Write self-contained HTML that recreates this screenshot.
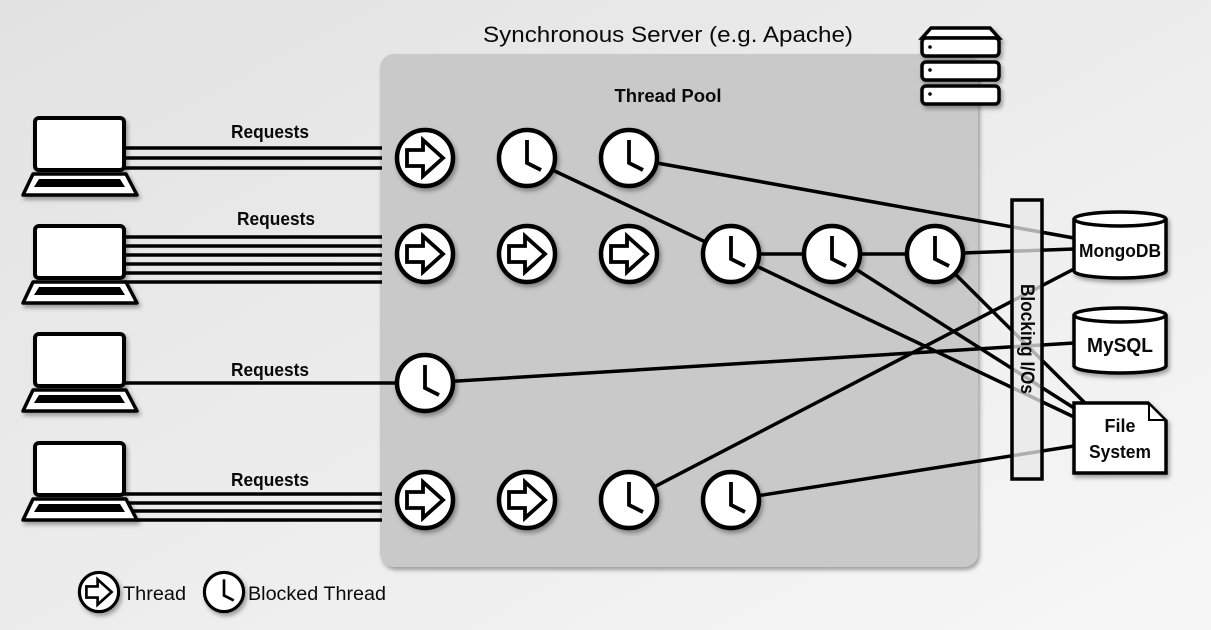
<!DOCTYPE html>
<html><head><meta charset="utf-8"><style>
html,body{margin:0;padding:0;width:1211px;height:630px;overflow:hidden;background:#eee}
svg{display:block}
text{font-family:"Liberation Sans",sans-serif;fill:#0a0a0a}
</style></head><body>
<svg width="1211" height="630" viewBox="0 0 1211 630" xmlns="http://www.w3.org/2000/svg">
<defs>
<linearGradient id="bg" x1="0" y1="0" x2="1" y2="1">
<stop offset="0" stop-color="#e2e2e2"/><stop offset="1" stop-color="#f7f7f7"/>
</linearGradient>
<filter id="sh" x="-30%" y="-30%" width="170%" height="170%">
<feDropShadow dx="2" dy="3" stdDeviation="2" flood-color="#000" flood-opacity="0.35"/>
</filter>
<g id="arrow">
<circle r="28" fill="#fff" stroke="#000" stroke-width="4.5"/>
<path d="M-18,-8 L-2,-8 L-2,-18 L18,0 L-2,18 L-2,8 L-18,8 Z" fill="#fff" stroke="#000" stroke-width="3.8" stroke-linejoin="miter"/>
</g>
<g id="clock">
<circle r="28" fill="#fff" stroke="#000" stroke-width="4.5"/>
<path d="M0,-18 L0,5 L14,12" fill="none" stroke="#000" stroke-width="3.8"/>
</g>
<g id="laptop">
<rect x="0" y="0" width="89" height="52" rx="4" fill="#fff" stroke="#000" stroke-width="4"/>
<path d="M-2,56 L91,56 L102,77 L-12,77 Z" fill="#fff" stroke="#000" stroke-width="3.5" stroke-linejoin="round"/>
<path d="M4,61 L85,61 L90,69 L-1,69 Z" fill="#000"/>
</g>
</defs>
<rect width="1211" height="630" fill="url(#bg)"/>
<rect x="380" y="54" width="598" height="513" rx="14" fill="#c9c9c9" filter="url(#sh)"/>
<text x="668" y="42" font-size="22" text-anchor="middle" textLength="370" lengthAdjust="spacingAndGlyphs">Synchronous Server (e.g. Apache)</text>
<text x="668" y="102" font-size="18" font-weight="bold" text-anchor="middle" textLength="107" lengthAdjust="spacingAndGlyphs">Thread Pool</text>
<g stroke="#000" stroke-width="3.5" fill="#fff" filter="url(#sh)">
<path d="M922,38 L931,28 L990,28 L999,38 Z"/>
<rect x="922" y="38" width="77" height="18" rx="4"/>
<rect x="922" y="62" width="77" height="18" rx="4"/>
<rect x="922" y="86" width="77" height="18" rx="4"/>
</g>
<g fill="#000"><circle cx="930" cy="47" r="1.8"/><circle cx="930" cy="70" r="1.8"/><circle cx="930" cy="94" r="1.8"/></g>
<use href="#laptop" x="35" y="118" filter="url(#sh)"/>
<use href="#laptop" x="35" y="226" filter="url(#sh)"/>
<use href="#laptop" x="35" y="334" filter="url(#sh)"/>
<use href="#laptop" x="35" y="443" filter="url(#sh)"/>
<g stroke="#000" stroke-width="3.5">
<path d="M124,148H382M124,158H382M124,168H382"/>
<path d="M124,237H382M124,246H382M124,255H382M124,264H382M124,273H382M124,282H382"/>
<path d="M124,383H400"/>
<path d="M124,494H382M128,503H382M132,511H382M136,520H382"/>
</g>
<g font-size="18" font-weight="bold">
<text x="270" y="138" text-anchor="middle" textLength="78" lengthAdjust="spacingAndGlyphs">Requests</text>
<text x="276" y="225" text-anchor="middle" textLength="78" lengthAdjust="spacingAndGlyphs">Requests</text>
<text x="270" y="376" text-anchor="middle" textLength="78" lengthAdjust="spacingAndGlyphs">Requests</text>
<text x="270" y="486" text-anchor="middle" textLength="78" lengthAdjust="spacingAndGlyphs">Requests</text>
</g>
<g stroke="#000" stroke-width="3.5" fill="none">
<path d="M629,158 L1074,238"/>
<path d="M527,158 L731,254 L832,254 L935,254 L1074,249"/>
<path d="M731,254 L1074,417"/>
<path d="M832,254 L1074,408"/>
<path d="M935,254 L1085,403"/>
<path d="M425,383 L1074,343"/>
<path d="M629,500 L1074,269"/>
<path d="M731,500 L1074,446"/>
</g>
<rect x="1012" y="200" width="30" height="279" fill="#e8e8e8" fill-opacity="0.75" stroke="#000" stroke-width="3.5"/>
<text transform="translate(1021,339) rotate(90)" font-size="19" font-weight="bold" text-anchor="middle" textLength="110" lengthAdjust="spacingAndGlyphs">Blocking I/Os</text>
<g filter="url(#sh)">
<use href="#arrow" x="425" y="158"/><use href="#clock" x="527" y="158"/><use href="#clock" x="629" y="158"/>
<use href="#arrow" x="425" y="254"/><use href="#arrow" x="527" y="254"/><use href="#arrow" x="629" y="254"/>
<use href="#clock" x="731" y="254"/><use href="#clock" x="832" y="254"/><use href="#clock" x="935" y="254"/>
<use href="#clock" x="425" y="383"/>
<use href="#arrow" x="425" y="500"/><use href="#arrow" x="527" y="500"/><use href="#clock" x="629" y="500"/><use href="#clock" x="731" y="500"/>
</g>
<g stroke="#000" stroke-width="3.5" fill="#fff" filter="url(#sh)">
<path d="M1074,219 V271 A46,7 0 0 0 1166,271 V219 A46,7 0 0 0 1074,219 Z"/>
<path d="M1074,219 A46,7 0 0 0 1166,219" fill="none"/>
<path d="M1074,315 V366 A46,7 0 0 0 1166,366 V315 A46,7 0 0 0 1074,315 Z"/>
<path d="M1074,315 A46,7 0 0 0 1166,315" fill="none"/>
<path d="M1074,403 H1148 L1166,421 V473 H1074 Z"/>
</g>
<path d="M1148,403 V421 H1166 Z" fill="#000"/>
<path d="M1150,406 V419 H1163 Z" fill="#fff"/>
<g font-size="18" font-weight="bold" text-anchor="middle">
<text x="1120" y="257" textLength="82" lengthAdjust="spacingAndGlyphs">MongoDB</text>
<text x="1120" y="352" font-size="20" textLength="66" lengthAdjust="spacingAndGlyphs">MySQL</text>
<text x="1120" y="432">File</text>
<text x="1120" y="458" textLength="62" lengthAdjust="spacingAndGlyphs">System</text>
</g>
<g filter="url(#sh)">
<g transform="translate(99,592) scale(0.7)"><use href="#arrow"/></g>
<g transform="translate(224,592) scale(0.7)"><use href="#clock"/></g>
</g>
<text x="123" y="600" font-size="19" textLength="63" lengthAdjust="spacingAndGlyphs">Thread</text>
<text x="248" y="600" font-size="19" textLength="138" lengthAdjust="spacingAndGlyphs">Blocked Thread</text>
</svg>
</body></html>
